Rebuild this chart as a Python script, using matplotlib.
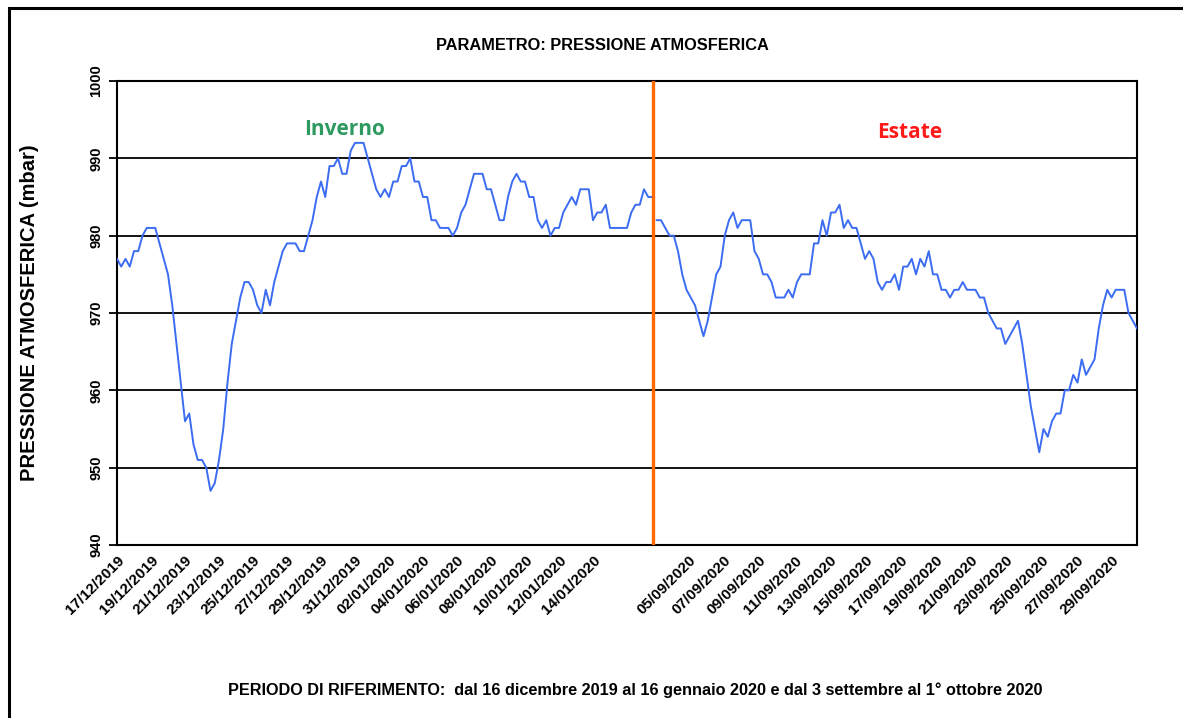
import matplotlib
matplotlib.use("Agg")
import matplotlib.pyplot as plt
from matplotlib.patches import Rectangle

# pressione (mbar), 4 letture al giorno
inverno = [977, 976, 977, 976, 978, 978, 980, 981, 981, 981,
           979, 977, 975, 971, 966, 961, 956, 957, 953, 951,
           951, 950, 947, 948, 951, 955, 961, 966, 969, 972,
           974, 974, 973, 971, 970, 973, 971, 974, 976, 978,
           979, 979, 979, 978, 978, 980, 982, 985, 987, 985,
           989, 989, 990, 988, 988, 991, 992, 992, 992, 990,
           988, 986, 985, 986, 985, 987, 987, 989, 989, 990,
           987, 987, 985, 985, 982, 982, 981, 981, 981, 980,
           981, 983, 984, 986, 988, 988, 988, 986, 986, 984,
           982, 982, 985, 987, 988, 987, 987, 985, 985, 982,
           981, 982, 980, 981, 981, 983, 984, 985, 984, 986,
           986, 986, 982, 983, 983, 984, 981, 981, 981, 981,
           981, 983, 984, 984, 986, 985, 985]

estate = [982, 982, 981, 980, 980, 978, 975, 973, 972, 971,
          969, 967, 969, 972, 975, 976, 980, 982, 983, 981,
          982, 982, 982, 978, 977, 975, 975, 974, 972, 972,
          972, 973, 972, 974, 975, 975, 975, 979, 979, 982,
          980, 983, 983, 984, 981, 982, 981, 981, 979, 977,
          978, 977, 974, 973, 974, 974, 975, 973, 976, 976,
          977, 975, 977, 976, 978, 975, 975, 973, 973, 972,
          973, 973, 974, 973, 973, 973, 972, 972, 970, 969,
          968, 968, 966, 967, 968, 969, 966, 962, 958, 955,
          952, 955, 954, 956, 957, 957, 960, 960, 962, 961,
          964, 962, 963, 964, 968, 971, 973, 972, 973, 973,
          973, 970, 969, 968]

etichette_inverno = ["17/12/2019", "19/12/2019", "21/12/2019", "23/12/2019",
                     "25/12/2019", "27/12/2019", "29/12/2019", "31/12/2019",
                     "02/01/2020", "04/01/2020", "06/01/2020", "08/01/2020",
                     "10/01/2020", "12/01/2020", "14/01/2020"]
etichette_estate = ["05/09/2020", "07/09/2020", "09/09/2020", "11/09/2020",
                    "13/09/2020", "15/09/2020", "17/09/2020", "19/09/2020",
                    "21/09/2020", "23/09/2020", "25/09/2020", "27/09/2020",
                    "29/09/2020"]

x_inv = list(range(len(inverno)))
x_est = list(range(len(inverno), len(inverno) + len(estate)))
stacco = len(inverno) - 0.8

tick_pos = [8 * i for i in range(len(etichette_inverno))]
tick_pos += [stacco + 8.3 + 8.3 * i for i in range(len(etichette_estate))]

fig = plt.figure(figsize=(11.83, 7.18), dpi=100)
ax = fig.add_axes([117 / 1183, 1 - 545 / 718, 1020 / 1183, 464 / 718])

fig.patches.append(Rectangle((8.5 / 1183, -0.1), 1.2, 1.1 - 8.5 / 718,
                             transform=fig.transFigure, fill=False,
                             edgecolor="black", linewidth=2.2))

for v in [950, 960, 970, 980, 990]:
    ax.axhline(v, color="black", linewidth=1.3, zorder=1)

ax.plot(x_inv, inverno, color="#3b6cf2", linewidth=1.4, zorder=3)
ax.plot(x_est, estate, color="#3b6cf2", linewidth=1.4, zorder=3)
ax.axvline(stacco, color="#ff6a00", linewidth=2.4, zorder=4)

ax.set_xlim(0, x_est[-1])
ax.set_ylim(940, 1000)
ax.set_yticks([940, 950, 960, 970, 980, 990, 1000])
ax.set_yticklabels(["940", "950", "960", "970", "980", "990", "1000"],
                   rotation=90, va="center", fontsize=10.5, fontweight="bold",
                   family="Liberation Sans")
ax.tick_params(axis="y", length=6, width=1.3, pad=4)
ax.set_xticks(tick_pos)
ax.set_xticklabels(etichette_inverno + etichette_estate, rotation=45,
                   ha="right", va="top", rotation_mode="anchor",
                   fontsize=11, fontweight="bold", family="Liberation Sans")
ax.tick_params(axis="x", length=0, pad=6)
for s in ax.spines.values():
    s.set_linewidth(1.5)

ax.text(0.2235, 0.895, "Inverno", transform=ax.transAxes, color="#2e9a60",
        fontsize=15, fontweight="bold", ha="center", va="center",
        family="Open Sans")
ax.text(0.777, 0.89, "Estate", transform=ax.transAxes, color="#ff1a1a",
        fontsize=15, fontweight="bold", ha="center", va="center",
        family="Open Sans")

fig.text(602 / 1183, 1 - 46 / 718, "PARAMETRO: PRESSIONE ATMOSFERICA",
         ha="center", va="center", fontsize=11.8, fontweight="bold",
         family="Liberation Sans")
fig.text(30 / 1183, 1 - 313 / 718, "PRESSIONE ATMOSFERICA (mbar)",
         rotation=90, ha="center", va="center", fontsize=14.5,
         fontweight="bold", family="Liberation Sans")
fig.text(635 / 1183, 1 - 690 / 718,
         "PERIODO DI RIFERIMENTO:  dal 16 dicembre 2019 al 16 gennaio 2020 e dal 3 settembre al 1° ottobre 2020",
         ha="center", va="center", fontsize=11.7, fontweight="bold",
         family="Liberation Sans")

fig.savefig("out.png", dpi=100)
